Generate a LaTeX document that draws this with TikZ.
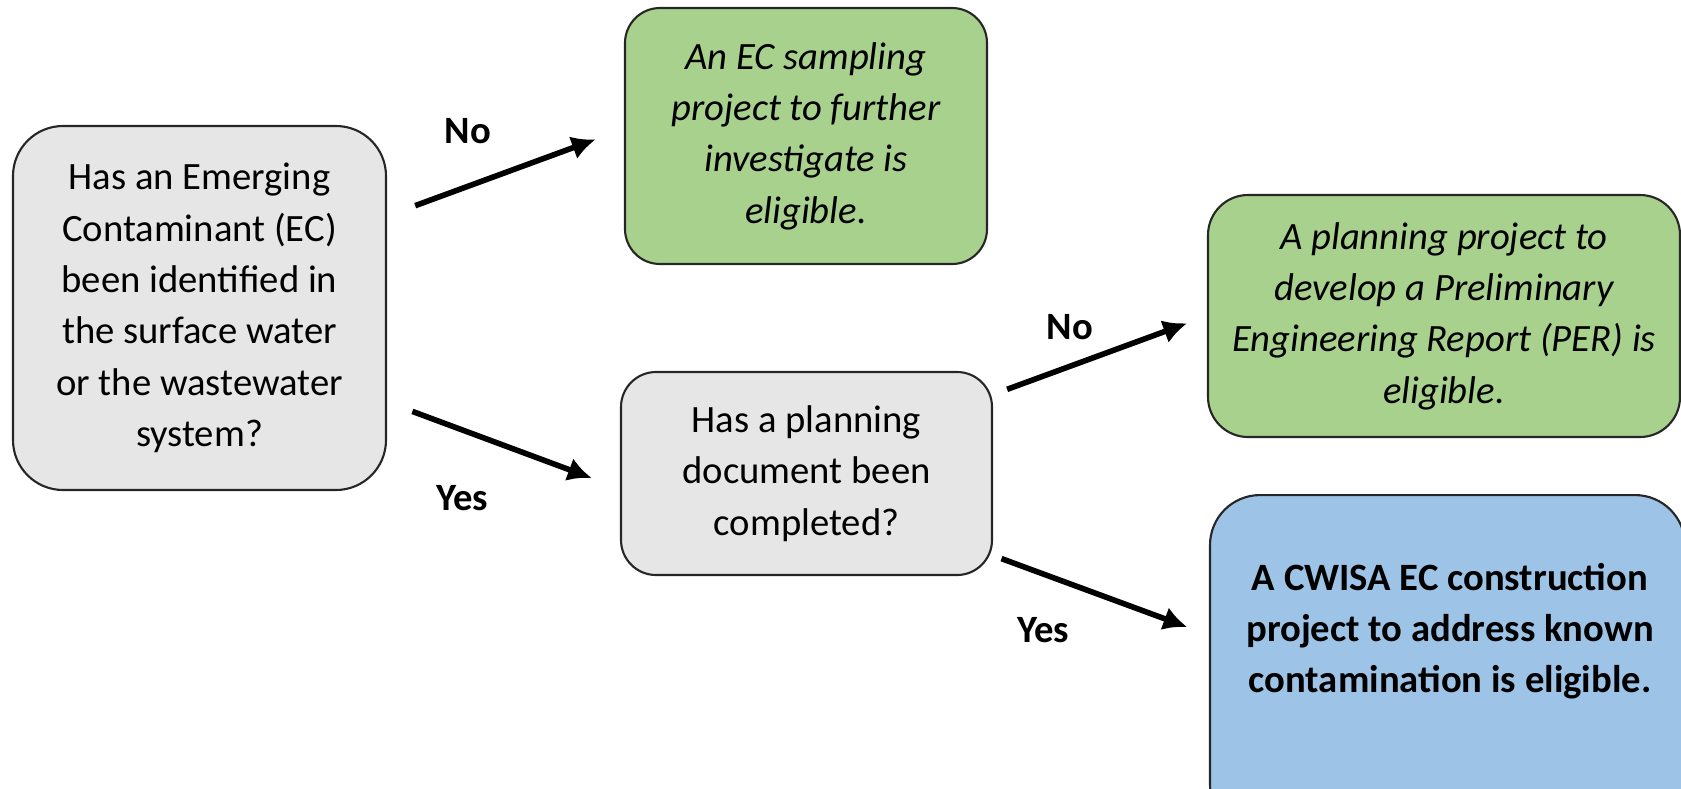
\documentclass[tikz,border=0pt]{standalone}
\usepackage{fontspec}
\setmainfont{Carlito}
\usepackage{tikz}
\usetikzlibrary{arrows.meta}

\definecolor{boxgray}{HTML}{E7E6E6}
\definecolor{boxgreen}{HTML}{A9D18E}
\definecolor{boxblue}{HTML}{9DC3E6}

\begin{document}
\begin{tikzpicture}[
		font=\fontsize{11}{14.6}\selectfont,
		card/.style={draw=black!85, line width=0.6pt, align=center, inner sep=0pt},
		flow/.style={-{Latex[length=0.24cm, width=0.24cm]}, line width=1.6pt},
		answer/.style={font=\fontsize{11}{14.6}\selectfont\bfseries}
	]
	\useasboundingbox (0, 0) rectangle (16.81, -7.88);
	\clip (0, 0) rectangle (16.81, -7.88);

	\node[card, fill=boxgray, rounded corners=0.5cm, minimum width=3.73cm, minimum height=3.64cm] (q1) at (1.995, -3.08) {Has an Emerging\\Contaminant (EC)\\been identified in\\the surface water\\or the wastewater\\system?};
	\node[card, fill=boxgreen, rounded corners=0.35cm, minimum width=3.62cm, minimum height=2.56cm, font=\fontsize{11}{14.6}\selectfont\itshape] (ec) at (8.06, -1.36) {An EC sampling\\project to further\\investigate is\\eligible.};
	\node[card, fill=boxgray, rounded corners=0.35cm, minimum width=3.71cm, minimum height=2.03cm] (q2) at (8.065, -4.735) {Has a planning\\document been\\completed?};
	\node[card, fill=boxgreen, rounded corners=0.4cm, minimum width=4.72cm, minimum height=2.42cm, font=\fontsize{11}{14.6}\selectfont\itshape] (per) at (14.44, -3.16) {A planning project to\\develop a Preliminary\\Engineering Report (PER) is\\eligible.};
	\node[card, fill=boxblue, rounded corners=0.5cm, minimum width=4.75cm, minimum height=3.4cm, anchor=north] (build) at (14.475, -4.94) {};
	\node[align=center, font=\fontsize{11}{14.6}\selectfont\bfseries] (buildtext) at (14.5, -6.31) {A CWISA EC construction\\project to address known\\contamination is eligible.};

	\draw[flow, shorten <=0.3cm, shorten >=0.3cm] ([yshift=0.92cm]q1.east) -- ([yshift=0.07cm]ec.west);
	\draw[flow, shorten <=0.27cm, shorten >=0.3cm] ([yshift=-0.94cm]q1.east) -- ([yshift=-0.15cm]q2.west);
	\draw[flow, shorten <=0.15cm, shorten >=0.21cm] ([yshift=0.79cm]q2.east) -- (per.west);
	\draw[flow, shorten <=0.09cm, shorten >=0.23cm] ([yshift=-0.82cm]q2.east) -- ([yshift=0.3cm]build.west);

	\node[answer] (no1) at (4.68, -1.31) {No};
	\node[answer] (yes1) at (4.62, -4.98) {Yes};
	\node[answer] (no2) at (10.70, -3.27) {No};
	\node[answer] (yes2) at (10.43, -6.30) {Yes};
\end{tikzpicture}
\end{document}
